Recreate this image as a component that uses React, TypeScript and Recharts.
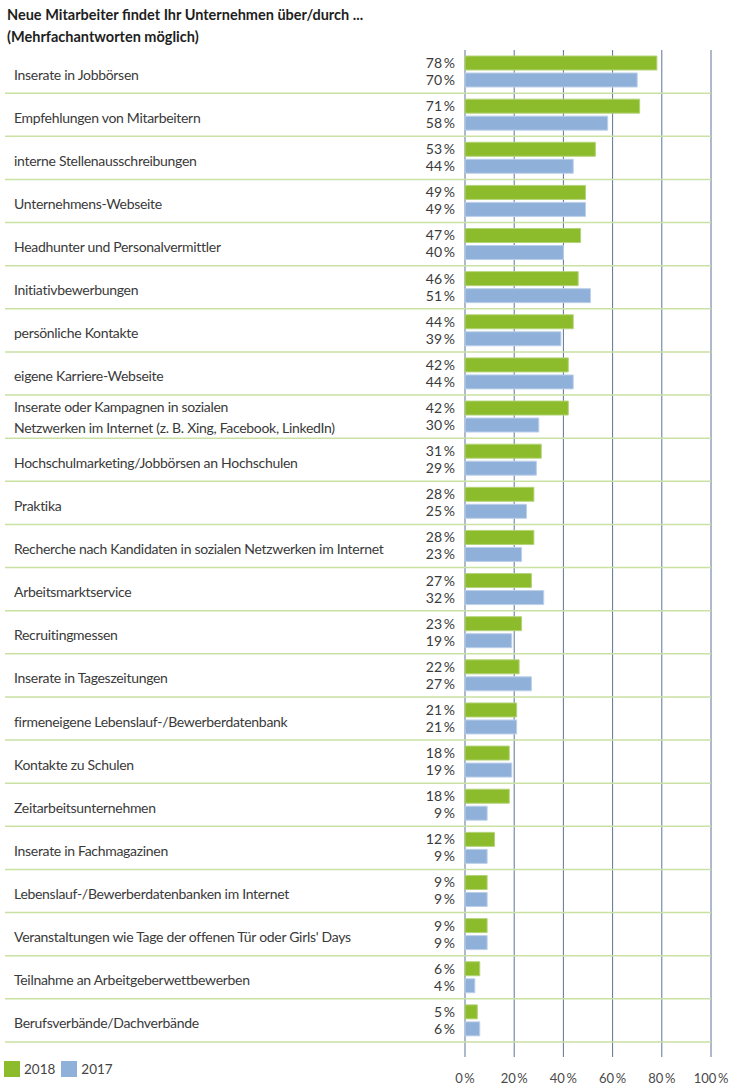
import { BarChart, Bar, XAxis, YAxis, CartesianGrid, LabelList } from "recharts";

const categories = [
  "Inserate in Jobbörsen",
  "Empfehlungen von Mitarbeitern",
  "interne Stellenausschreibungen",
  "Unternehmens-Webseite",
  "Headhunter und Personalvermittler",
  "Initiativbewerbungen",
  "persönliche Kontakte",
  "eigene Karriere-Webseite",
  "Inserate oder Kampagnen in sozialen\nNetzwerken im Internet (z. B. Xing, Facebook, LinkedIn)",
  "Hochschulmarketing/Jobbörsen an Hochschulen",
  "Praktika",
  "Recherche nach Kandidaten in sozialen Netzwerken im Internet",
  "Arbeitsmarktservice",
  "Recruitingmessen",
  "Inserate in Tageszeitungen",
  "firmeneigene Lebenslauf-/Bewerberdatenbank",
  "Kontakte zu Schulen",
  "Zeitarbeitsunternehmen",
  "Inserate in Fachmagazinen",
  "Lebenslauf-/Bewerberdatenbanken im Internet",
  "Veranstaltungen wie Tage der offenen Tür oder Girls' Days",
  "Teilnahme an Arbeitgeberwettbewerben",
  "Berufsverbände/Dachverbände",
];
const values2018 = [78, 71, 53, 49, 47, 46, 44, 42, 42, 31, 28, 28, 27, 23, 22, 21, 18, 18, 12, 9, 9, 6, 5];
const values2017 = [70, 58, 44, 49, 40, 51, 39, 44, 30, 29, 25, 23, 32, 19, 27, 21, 19, 9, 9, 9, 9, 4, 6];
const xTicks = [0, 20, 40, 60, 80, 100];

const WIDTH = 738;
const HEIGHT = 1089;
const TOP = 50;
const X_AXIS_H = 32;
const BOTTOM_PAD = 15;
const ROW_H = (HEIGHT - X_AXIS_H - TOP - BOTTOM_PAD) / categories.length;
const PLOT_RIGHT = 711;
const FONT = "Lato, sans-serif";

const GREEN = "#8cbb2b";
const BLUE = "#8fb0d9";

const data = categories.map((name, i) => ({ name, y2018: values2018[i], y2017: values2017[i] }));

const pct = (v: number) => `${v}\u2009%`;

function CategoryTick(props: any) {
  const { y, payload } = props;
  const lines = String(payload.value).split("\n");
  const sep = y + ROW_H / 2;
  const textProps = { x: 14, fill: "#3a3a3a", fontSize: 14, fontFamily: FONT, letterSpacing: -0.3 };
  return (
    <g>
      {lines.length === 1 ? (
        <text {...textProps} y={y + 8}>
          {lines[0]}
        </text>
      ) : (
        lines.map((l, k) => (
          <text key={k} {...textProps} y={y + (k === 0 ? -5 : 16.5)}>
            {l}
          </text>
        ))
      )}
      <line x1={5} x2={PLOT_RIGHT} y1={sep} y2={sep} stroke="#c9e1a2" strokeWidth={1.5} />
    </g>
  );
}

export default function App() {
  return (
    <div style={{ position: "absolute", left: 0, top: 0, width: WIDTH, height: HEIGHT, background: "#fff" }}>
      <div
        style={{
          position: "absolute",
          left: 7,
          top: 4,
          fontFamily: FONT,
          fontWeight: 700,
          fontSize: 14.5,
          lineHeight: "22px",
          color: "#1e1e1e",
        }}
      >
        <div>Neue Mitarbeiter findet Ihr Unternehmen über/durch ...</div>
        <div>(Mehrfachantworten möglich)</div>
      </div>
      <BarChart
        width={WIDTH}
        height={HEIGHT}
        data={data}
        layout="vertical"
        margin={{ top: TOP, right: WIDTH - PLOT_RIGHT, bottom: 0, left: 0 }}
        barSize={14}
        barGap={3}
      >
        <CartesianGrid horizontal={false} vertical stroke="#5d7499" strokeWidth={1} />
        <XAxis
          type="number"
          domain={[0, 100]}
          ticks={xTicks}
          tickFormatter={pct}
          axisLine={false}
          tickLine={false}
          tickSize={0}
          tickMargin={17}
          height={X_AXIS_H}
          tick={{ fill: "#4a4a4a", fontSize: 13, fontFamily: FONT }}
          interval={0}
        />
        <YAxis
          type="category"
          dataKey="name"
          width={465}
          axisLine={false}
          tickLine={false}
          padding={{ top: 0, bottom: BOTTOM_PAD }}
          tick={<CategoryTick />}
          interval={0}
        />
        <Bar dataKey="y2018" fill={GREEN} stroke="#b4d47a" strokeWidth={1} isAnimationActive={false}>
          <LabelList dataKey="y2018" position="left" offset={10} formatter={pct as any} fill="#3a3a3a" fontSize={14} fontFamily={FONT} />
        </Bar>
        <Bar dataKey="y2017" fill={BLUE} stroke="#bdd0ea" strokeWidth={1} isAnimationActive={false}>
          <LabelList dataKey="y2017" position="left" offset={10} formatter={pct as any} fill="#3a3a3a" fontSize={14} fontFamily={FONT} />
        </Bar>
      </BarChart>
      <div
        style={{
          position: "absolute",
          left: 4,
          top: 1061,
          display: "flex",
          alignItems: "center",
          fontFamily: FONT,
          fontSize: 13.5,
          color: "#444",
        }}
      >
        <span style={{ width: 16, height: 16, background: GREEN, display: "inline-block", marginRight: 4 }} />
        <span style={{ marginRight: 6 }}>2018</span>
        <span style={{ width: 16, height: 16, background: BLUE, display: "inline-block", marginRight: 4 }} />
        <span>2017</span>
      </div>
    </div>
  );
}
